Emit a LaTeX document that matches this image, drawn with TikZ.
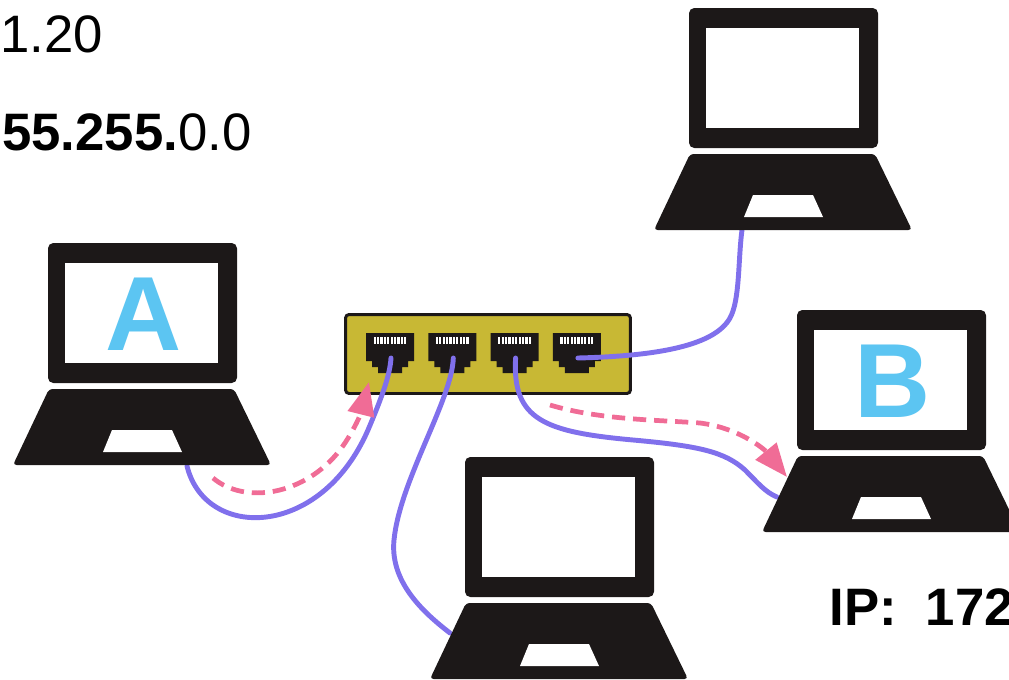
\documentclass[tikz,border=0pt]{standalone}
\usepackage{fontspec}
\setmainfont{Liberation Sans}
\usepackage{xcolor}
\usepackage{tikz}
\usetikzlibrary{arrows.meta, positioning}

\definecolor{laptopblack}{RGB}{28,24,24}
\definecolor{screenblue}{RGB}{92,197,242}
\definecolor{switchgold}{RGB}{200,184,52}
\definecolor{cablepurple}{RGB}{128,112,236}
\definecolor{packetpink}{RGB}{240,108,150}

\begin{document}
\begin{tikzpicture}[
    x=0.02cm, y=-0.02cm,
    cable/.style={draw=cablepurple, line width=2.8pt, line cap=round},
    packet/.style={draw=packetpink, line width=2.7pt, dash pattern=on 7.5pt off 4.5pt,
        -{Triangle[length=19pt, width=15pt, fill=packetpink]}},
    switchbox/.style={draw=laptopblack, fill=switchgold, line width=1.7pt, rounded corners=2pt,
        minimum width=5.7cm, minimum height=1.58cm},
    addr/.style={anchor=base west, inner sep=0pt, font=\fontsize{30}{36}\selectfont},
    pics/laptop/.style={code={
        \fill[laptopblack, rounded corners=3pt] (0,0) rectangle (189,140);
        \fill[white] (17,20) rectangle (170,120);
        \fill[laptopblack, rounded corners=2pt] (1,146) -- (186,146) -- (223,222) -- (-35,222) -- cycle;
        \fill[white] (64,187) -- (124,187) -- (134,209) -- (55,209) -- cycle;
        \node[anchor=base, inner sep=0pt, text=screenblue,
            font=\fontsize{60}{60}\selectfont\bfseries] at (96,107) {#1};
    }},
    pics/jack/.style={code={
        \fill[laptopblack] (0,0) -- (48,0) -- (48,28) -- (42,28) -- (42,34) -- (36,34) -- (36,40)
            -- (12,40) -- (12,34) -- (6,34) -- (6,28) -- (0,28) -- cycle;
        \foreach \p in {0,...,9}
            \fill[white] ({7.5+3.4*\p},4) rectangle ++(2.2,7);
    }}
]
\useasboundingbox (0,0) rectangle (1009,680);

% Addresses
\node[addr] (host) at (0,52) {1.20};
\node[addr] (mask) at (2,150) {\textbf{55.255.}0.0};
\node[addr, font=\fontsize{30}{36}\selectfont\bfseries] (ip) at (829,625) {IP:\ \ 172};

% Switch with four ports
\node[switchbox] (switch) at (488,354) {};
\foreach \i in {1,...,4} {
    \pic at ({366+62.3*(\i-1)},333) {jack};
    \coordinate (port\i) at ({391+62.3*(\i-1)},358);
}

% Cable ends at the laptops
\coordinate (plugA) at (187,466);
\coordinate (plugTop) at (742,230);
\coordinate (plugB) at (777,497);
\coordinate (plugBot) at (450,633);

% Cables
\draw[cable] (plugA) .. controls (205,540) and (320,540) .. (368,430)
    .. controls (382,397) and (390,375) .. (port1);
\draw[cable] (port2) .. controls (452,400) and (400,480) .. (394,540)
    .. controls (390,580) and (420,610) .. (plugBot);
\draw[cable] (port3) .. controls (512,420) and (545,432) .. (633,440)
    .. controls (700,446) and (725,452) .. (745,470)
    .. controls (758,483) and (765,492) .. (plugB);
\draw[cable] (port4) .. controls (660,356) and (715,345) .. (730,318)
    .. controls (740,300) and (738,260) .. (plugTop);

% Laptops
\pic (lapA) at (48,243) {laptop=A};
\pic (lapTop) at (689,8) {laptop={}};
\pic (lapB) at (797,310) {laptop=B};
\pic (lapBot) at (465,457) {laptop={}};

% Packet path from A to B
\coordinate (sendA) at (213,478);
\coordinate (inA) at (369,382);
\coordinate (outB) at (550,405);
\coordinate (recvB) at (787,477);
\draw[packet] (sendA) .. controls (245,505) and (305,495) .. (340,450)
    .. controls (355,430) and (362,410) .. (inA);
\draw[packet] (outB) .. controls (600,420) and (660,420) .. (700,423)
    .. controls (740,428) and (765,450) .. (recvB);
\end{tikzpicture}
\end{document}
